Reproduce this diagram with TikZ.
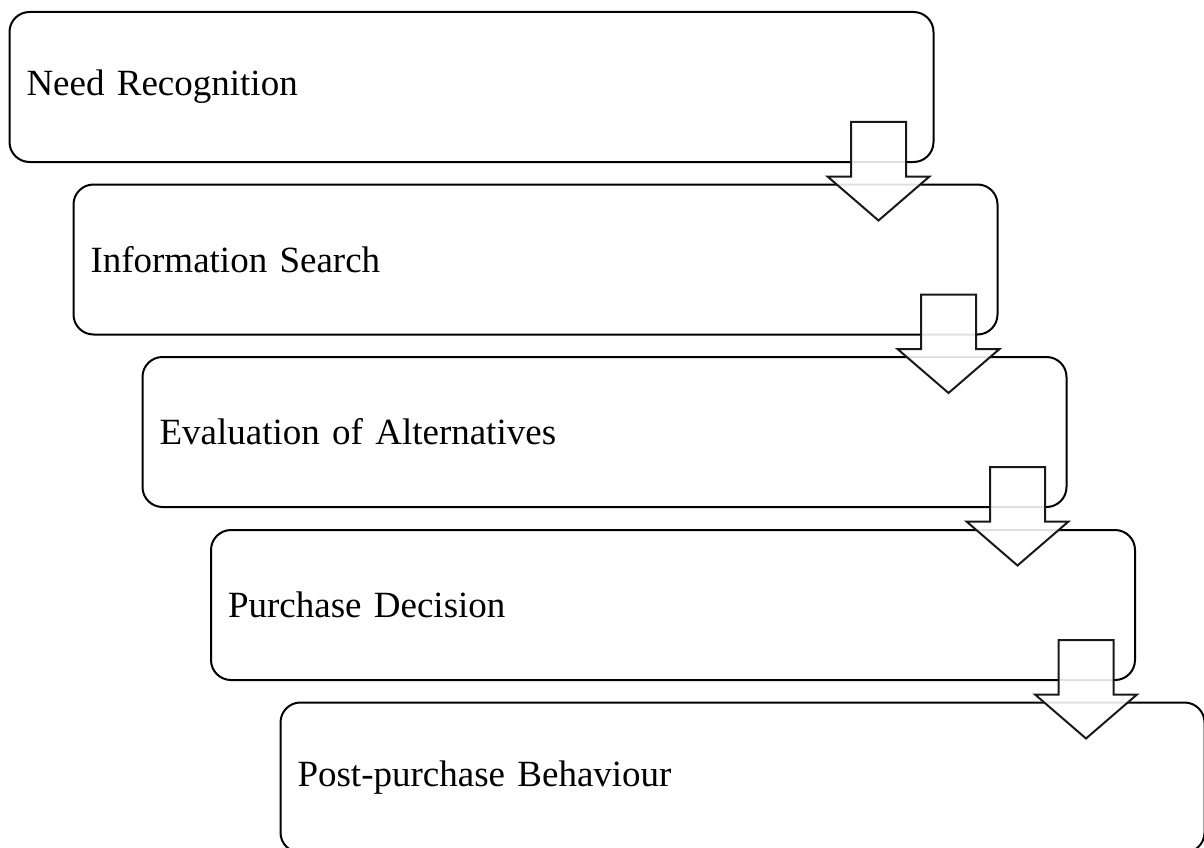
\documentclass[tikz,border=0pt]{standalone}
\usepackage{fontspec}
\setmainfont{Liberation Serif}
\usetikzlibrary{calc}
\begin{document}
\begin{tikzpicture}[x=1pt,y=-1pt,
  stagebox/.style={draw=black, line width=2pt, rounded corners=20pt, fill=white,
    anchor=north west, minimum width=924pt, minimum height=150pt,
    text width=890pt, align=left, inner xsep=17pt, inner ysep=0pt, outer sep=0pt,
    font=\fontsize{37}{44}\selectfont},
  barrow/.style={draw=black!90, line width=2pt, fill=white, fill opacity=0.88, line join=miter}]
\useasboundingbox (0,0) rectangle (1204,848);
\node[stagebox] (b1) at (9.5,12) {Need Recognition};
\node[stagebox] (b2) at (73.5,184.5) {Information Search};
\node[stagebox] (b3) at (142.5,357) {Evaluation of Alternatives};
\node[stagebox] (b4) at (211,530) {Purchase Decision};
\node[stagebox] (b5) at (280.5,702.5) {Post-purchase Behaviour};
\foreach \b/\dx in {b1/-55,b2/-49,b3/-49,b4/-49}{
  \draw[barrow, shift={(\b.south east)}, xshift=\dx pt]
    (-27.5,-40) -- (27.5,-40) -- (27.5,14.5) -- (51,14.5) -- (0,58.5) -- (-51,14.5) -- (-27.5,14.5) -- cycle;
}
\end{tikzpicture}
\end{document}
